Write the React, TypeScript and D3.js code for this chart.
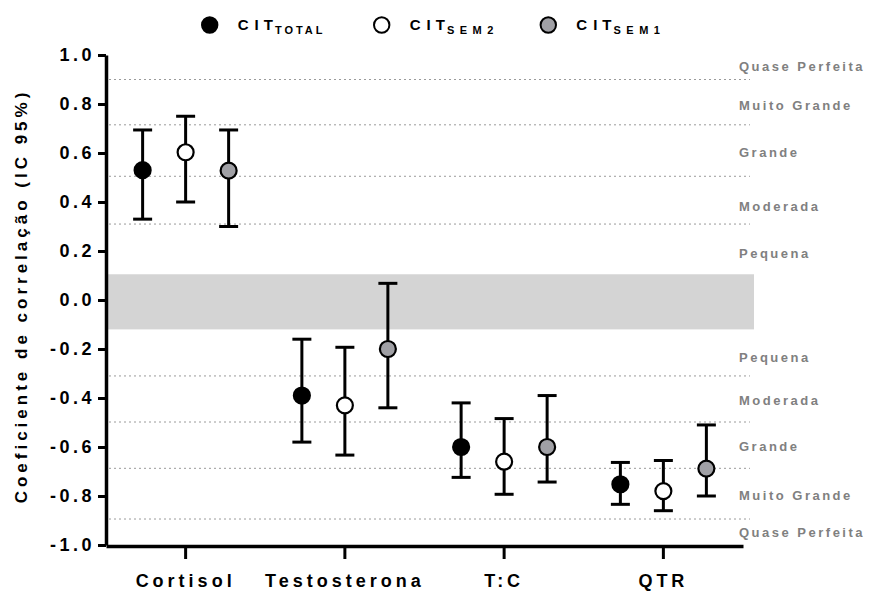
import React, { useRef, useEffect } from 'react';
import * as d3 from 'd3';

// categories on the x axis
const categories = ['Cortisol', 'Testosterona', 'T:C', 'QTR'];
const seriesKeys = ['TOTAL', 'SEM 2', 'SEM 1'];

// correlation coefficient and 95% CI per series
const totalMean = [0.53, -0.39, -0.6, -0.752];
const totalLower = [0.33, -0.58, -0.724, -0.834];
const totalUpper = [0.694, -0.16, -0.42, -0.663];

const sem2Mean = [0.603, -0.43, -0.66, -0.78];
const sem2Lower = [0.4, -0.633, -0.793, -0.86];
const sem2Upper = [0.75, -0.193, -0.484, -0.655];

const sem1Mean = [0.528, -0.2, -0.6, -0.688];
const sem1Lower = [0.3, -0.44, -0.743, -0.8];
const sem1Upper = [0.694, 0.068, -0.39, -0.51];

// y ticks
const yTicks = [-1, -0.8, -0.6, -0.4, -0.2, 0, 0.2, 0.4, 0.6, 0.8, 1];

// magnitude thresholds (dotted lines) and the "trivial" band
const thresholds = [0.9, 0.715, 0.505, 0.31, -0.31, -0.498, -0.687, -0.894];
const trivialBand = [-0.12, 0.105];
const magnitudeLabels = [
  'Quase Perfeita', 'Muito Grande', 'Grande', 'Moderada', 'Pequena',
  'Pequena', 'Moderada', 'Grande', 'Muito Grande', 'Quase Perfeita',
];
const magnitudeAt = [0.955, 0.795, 0.604, 0.38, 0.192, -0.233, -0.412, -0.596, -0.796, -0.947];

const FONT = '"Liberation Sans", Arial, Helvetica, sans-serif';

const App = () => {
  const chartRef = useRef<SVGSVGElement>(null);

  useEffect(() => {
    if (!chartRef.current) return;
    const svg = d3.select(chartRef.current);
    svg.selectAll('*').remove();

    const left = 106, right = 743, top = 55, bottom = 545;

    const x = d3.scaleBand().domain(categories).range([left, right]);
    const y = d3.scaleLinear().domain([-1, 1]).range([bottom, top]);
    const offset = d3.scalePoint().domain(seriesKeys).range([-43, 43]);
    const fill = d3.scaleOrdinal<string, string>().domain(seriesKeys).range(['#000000', '#ffffff', '#a0a0a5']);

    const series = [
      { key: 'TOTAL', mean: totalMean, lo: totalLower, hi: totalUpper },
      { key: 'SEM 2', mean: sem2Mean, lo: sem2Lower, hi: sem2Upper },
      { key: 'SEM 1', mean: sem1Mean, lo: sem1Lower, hi: sem1Upper },
    ];

    // trivial band
    svg.append('rect')
      .attr('x', left + 1)
      .attr('y', y(trivialBand[1]))
      .attr('width', 754 - left - 1)
      .attr('height', y(trivialBand[0]) - y(trivialBand[1]))
      .attr('fill', '#d4d4d4');

    // dotted threshold lines
    svg.append('g').selectAll('line')
      .data(thresholds)
      .join('line')
      .attr('x1', left + 3)
      .attr('x2', 750)
      .attr('y1', d => y(d))
      .attr('y2', d => y(d))
      .attr('stroke', '#9a9a9a')
      .attr('stroke-width', 1)
      .attr('stroke-dasharray', '2,3');

    // magnitude labels on the right
    svg.append('g').selectAll('text')
      .data(magnitudeLabels)
      .join('text')
      .attr('x', 739)
      .attr('y', (d, i) => y(magnitudeAt[i]))
      .attr('dy', '0.35em')
      .attr('fill', '#808080')
      .style('font-family', FONT)
      .style('font-weight', 'bold')
      .style('font-size', '13px')
      .style('letter-spacing', '2.5px')
      .text(d => d);

    // y axis
    const yAxis = svg.append('g')
      .attr('transform', `translate(${left},0)`)
      .call(d3.axisLeft(y).tickValues(yTicks).tickSize(8).tickSizeOuter(0)
        .tickFormat(d => (Math.abs(+d) < 1e-9 ? '0.0' : (+d).toFixed(1))));
    yAxis.select('.domain').attr('stroke', '#000').attr('stroke-width', 3.5);
    yAxis.selectAll('.tick line').attr('stroke', '#000').attr('stroke-width', 3);
    yAxis.selectAll('.tick text')
      .attr('fill', '#000')
      .attr('x', -11)
      .style('font-family', FONT)
      .style('font-weight', 'bold')
      .style('font-size', '18px')
      .style('letter-spacing', '3.5px');

    // x axis
    const xAxis = svg.append('g')
      .attr('transform', `translate(0,${bottom + 1})`)
      .call(d3.axisBottom(x).tickSize(13).tickSizeOuter(0));
    xAxis.select('.domain').attr('stroke', '#000').attr('stroke-width', 3.5);
    xAxis.selectAll('.tick line').attr('stroke', '#000').attr('stroke-width', 3);
    xAxis.selectAll('.tick text')
      .attr('fill', '#000')
      .attr('y', 41)
      .attr('dy', 0)
      .style('font-family', FONT)
      .style('font-weight', 'bold')
      .style('font-size', '18px')
      .style('letter-spacing', '4px');

    // y title
    svg.append('text')
      .attr('transform', 'rotate(-90)')
      .attr('x', -296)
      .attr('y', 27)
      .attr('text-anchor', 'middle')
      .style('font-family', FONT)
      .style('font-weight', 'bold')
      .style('font-size', '17px')
      .style('letter-spacing', '4px')
      .text('Coeficiente de correlação (IC 95%)');

    // error bars and points
    series.forEach(s => {
      const g = svg.append('g');
      const cx = (i: number) => (x(categories[i]) as number) + x.bandwidth() / 2 + (offset(s.key) as number);
      const idx = categories.map((_, i) => i);
      g.selectAll('line.v').data(idx).join('line')
        .attr('class', 'v')
        .attr('x1', cx).attr('x2', cx)
        .attr('y1', i => y(s.lo[i])).attr('y2', i => y(s.hi[i]))
        .attr('stroke', '#000').attr('stroke-width', 3);
      ['lo', 'hi'].forEach(k => {
        g.selectAll(`line.cap-${k}`).data(idx).join('line')
          .attr('class', `cap-${k}`)
          .attr('x1', i => cx(i) - 9.5).attr('x2', i => cx(i) + 9.5)
          .attr('y1', i => y((s as any)[k][i])).attr('y2', i => y((s as any)[k][i]))
          .attr('stroke', '#000').attr('stroke-width', 3);
      });
      g.selectAll('circle').data(idx).join('circle')
        .attr('cx', cx)
        .attr('cy', i => y(s.mean[i]))
        .attr('r', 8)
        .attr('fill', fill(s.key))
        .attr('stroke', '#000')
        .attr('stroke-width', 2.2);
    });

    // legend
    const legendX = [209.7, 381.7, 548.3];
    const subSpacing = ['3px', '5.5px', '5.5px'];
    const legend = svg.append('g');
    series.forEach((s, i) => {
      const item = legend.append('g').attr('transform', `translate(${legendX[i]},25)`);
      item.append('circle')
        .attr('r', 7.7)
        .attr('fill', fill(s.key))
        .attr('stroke', '#000')
        .attr('stroke-width', 2);
      const t = item.append('text')
        .attr('x', 28)
        .attr('y', 5)
        .style('font-family', FONT)
        .style('font-weight', 'bold')
        .style('font-size', '15px')
        .style('letter-spacing', '5px');
      t.append('tspan').text('C');
      t.append('tspan').attr('dx', 1).text('IT');
      t.append('tspan')
        .attr('dy', 3.5)
        .attr('dx', -3)
        .style('font-size', '11px')
        .style('letter-spacing', subSpacing[i])
        .text(s.key.replace(' ', ''));
    });
  }, []);

  return (
    <svg
      ref={chartRef}
      width={880}
      height={595}
      style={{ position: 'absolute', left: 0, top: 0, background: '#fff' }}
    />
  );
};

export default App;
